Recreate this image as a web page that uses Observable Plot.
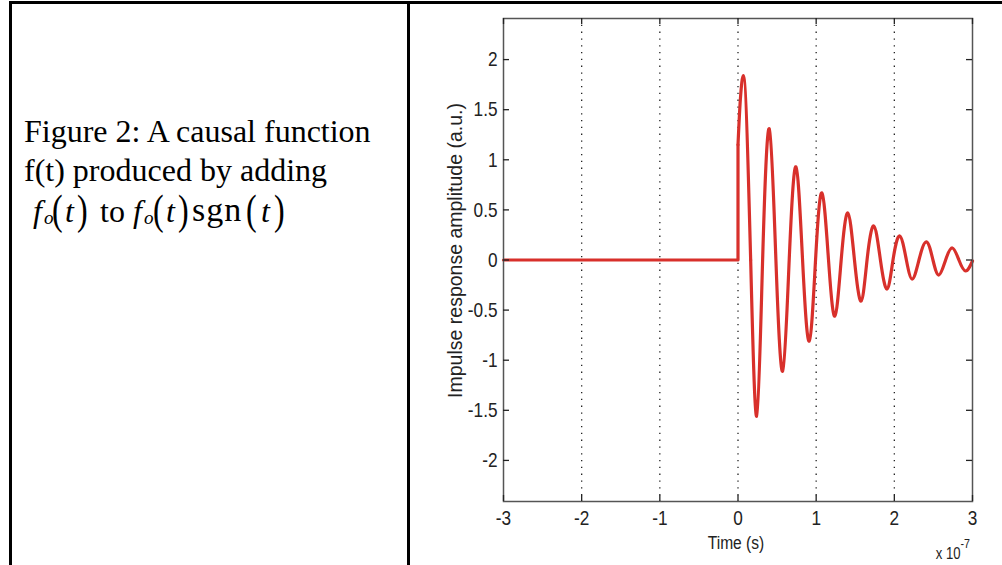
<!DOCTYPE html>
<html>
<head>
<meta charset="utf-8">
<script src="https://cdn.jsdelivr.net/npm/d3@7"></script>
<script src="https://cdn.jsdelivr.net/npm/@observablehq/plot@0.6"></script>
<style>
  html, body { margin: 0; padding: 0; background: #fff; }
  body { width: 1002px; height: 565px; position: relative; overflow: hidden; }
  .bar { position: absolute; background: #000; }
  .txt { position: absolute; left: 24px; font-family: "Liberation Serif", "Times New Roman", serif;
         font-size: 32px; line-height: 40px; height: 40px; color: #000; white-space: nowrap; }
  .math span { position: absolute; top: 0; }
  .math .it { font-style: italic; }
  .math .sub { font-style: italic; font-size: 19px; top: 7px; }
  .math .par { transform: scale(1, 1.3); transform-origin: 50% 62%; }
  #chart { position: absolute; left: 420px; top: 0px; }
</style>
</head>
<body>
<div class="bar" style="left:9px; right:0; top:1px; height:3px;"></div>
<div class="bar" style="left:9px; top:1px; bottom:0; width:3px;"></div>
<div class="bar" style="left:407px; top:1px; bottom:0; width:3px;"></div>

<div class="txt" style="top:111px;">Figure 2: A causal function</div>
<div class="txt" style="top:150px;">f(t) produced by adding</div>
<div class="txt math" style="top:191px; left:0; width:400px;">
  <span class="it" style="left:33px;">f</span><span class="sub" style="left:44px;">o</span>
  <span class="par" style="left:52px;">(</span><span class="it" style="left:65px;">t</span><span class="par" style="left:77px;">)</span>
  <span style="left:100px;">to</span>
  <span class="it" style="left:133px;">f</span><span class="sub" style="left:144px;">o</span>
  <span class="par" style="left:153px;">(</span><span class="it" style="left:166px;">t</span><span class="par" style="left:178px;">)</span>
  <span style="left:192px; font-size:34px; top:-1px; letter-spacing:1px;">sgn</span>
  <span class="par" style="left:246px;">(</span><span class="it" style="left:261px;">t</span><span class="par" style="left:274px;">)</span>
</div>

<div id="chart"></div>

<script>
// Time in units of 10^-7 s
const timeValues = [-3, 0, 0, 0.03, 0.068, 0.162, 0.239, 0.315, 0.40, 0.485, 0.571, 0.655, 0.741, 0.826, 0.911,
  0.992, 1.073, 1.158, 1.239, 1.32, 1.405, 1.49, 1.575, 1.651, 1.737, 1.822, 1.907, 1.983, 2.069,
  2.154, 2.231, 2.315, 2.41, 2.494, 2.571, 2.656, 2.742, 2.826, 2.912, 3.0];
const amplitudeValues = [0, 0, 1.15, 1.6, 1.84, 0, -1.56, 0, 1.31, 0, -1.11, 0, 0.93, 0, -0.81,
  0, 0.67, 0, -0.56, 0, 0.47, 0, -0.41, 0, 0.34, 0, -0.29, 0, 0.24,
  0, -0.19, 0, 0.18, 0, -0.15, 0, 0.12, 0, -0.11, -0.01];
const timeTicks = [-3, -2, -1, 0, 1, 2, 3];
const gridTimes = [-2, -1, 0, 1, 2];
const ampTicks = [-2, -1.5, -1, -0.5, 0, 0.5, 1, 1.5, 2];
const xLabel = "Time (s)";
const yLabel = "Impulse response amplitude (a.u.)";
const exponentBase = "x 10";
const exponentPower = "-7";

const xDomain = [-3, 3];
const yDomain = [-2.41, 2.41];

const data = timeValues.map((t, i) => ({t, a: amplitudeValues[i]}));
const beforeStep = data.slice(0, 3);   // flat part and the jump at t = 0
const firstPeak = data.slice(2, 6);    // rise to the first peak, down to the first zero crossing
const laterCycles = data.slice(5);     // damped oscillation
const fmt = d => String(d);
const sans = "'Liberation Sans', Arial, sans-serif";
const red = "#d8302b";

const xTickLen = 6 / 78.2;  // in data units
const yTickLen = 6 / 100;

const chart = Plot.plot({
  width: 582,
  height: 565,
  marginLeft: 83,
  marginRight: 30,
  marginTop: 18,
  marginBottom: 64,
  x: {domain: xDomain},
  y: {domain: yDomain},
  style: {fontFamily: sans, fontSize: "21px", color: "#222", background: "transparent", overflow: "visible"},
  marks: [
    Plot.ruleX(gridTimes, {stroke: "#222", strokeWidth: 1.3, strokeDasharray: "1.3,5.5"}),
    Plot.line(beforeStep, {x: "t", y: "a", curve: "linear", stroke: red, strokeWidth: 3.2}),
    Plot.line(firstPeak, {x: "t", y: "a", curve: "monotone-x", stroke: red, strokeWidth: 3.2}),
    Plot.line(laterCycles, {x: "t", y: "a", curve: "natural", stroke: red, strokeWidth: 3.2}),
    Plot.frame({stroke: "#555", strokeWidth: 1.5}),
    Plot.ruleX(timeTicks, {y1: yDomain[0], y2: yDomain[0] + yTickLen, stroke: "#222", strokeWidth: 1.3}),
    Plot.ruleX(timeTicks, {y1: yDomain[1], y2: yDomain[1] - yTickLen, stroke: "#222", strokeWidth: 1.3}),
    Plot.ruleY(ampTicks, {x1: xDomain[0], x2: xDomain[0] + xTickLen, stroke: "#222", strokeWidth: 1.3}),
    Plot.ruleY(ampTicks, {x1: xDomain[1], x2: xDomain[1] - xTickLen, stroke: "#222", strokeWidth: 1.3}),
    Plot.axisX(timeTicks, {anchor: "bottom", tickSize: 0, tickPadding: 9, tickFormat: fmt, label: null, fontSize: 21}),
    Plot.axisY(ampTicks, {anchor: "left", tickSize: 0, tickPadding: 6, tickFormat: fmt, label: null, fontSize: 21}),
    Plot.text([xLabel], {text: d => d, frameAnchor: "bottom", textAnchor: "middle", lineAnchor: "middle",
      dx: -2, dy: 41, fontSize: 19, fill: "#222"}),
    Plot.text([yLabel], {text: d => d, frameAnchor: "left", textAnchor: "middle", lineAnchor: "middle",
      dx: -48, dy: -9.5, rotate: -90, fontSize: 19.5, fill: "#222"}),
    Plot.text([exponentBase], {text: d => d, frameAnchor: "bottom-right", textAnchor: "end", lineAnchor: "middle",
      dx: -12, dy: 52, fontSize: 16, fill: "#222"}),
    Plot.text([exponentPower], {text: d => d, frameAnchor: "bottom-right", textAnchor: "start", lineAnchor: "middle",
      dx: -12, dy: 42, fontSize: 13, fill: "#222"})
  ]
});
// Narrow the MATLAB-style axis font (all texts but the rotated y label)
chart.querySelectorAll("text").forEach(el => {
  if (el.textContent === yLabel) return;
  const tr = el.getAttribute("transform");
  if (tr) el.setAttribute("transform", tr + " scale(0.82,1)");
  else {
    const x = el.getAttribute("x") || 0, y = el.getAttribute("y") || 0;
    el.setAttribute("transform", `translate(${x},${y}) scale(0.82,1) translate(${-x},${-y})`);
  }
});
document.getElementById("chart").appendChild(chart);
</script>
</body>
</html>
